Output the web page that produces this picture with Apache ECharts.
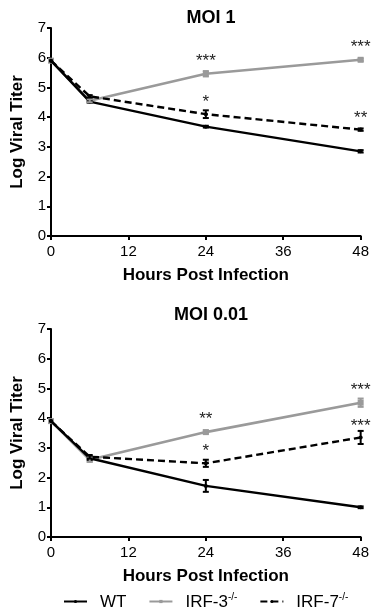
<!DOCTYPE html>
<html lang="en">
<head>
    <meta charset="UTF-8">
    <title>MOI viral titer</title>
    <script src="https://cdn.jsdelivr.net/npm/echarts@6.0.0/dist/echarts.min.js"></script>
    <style>
        body { margin: 0; background: #fff; }
        #main { width: 372px; height: 612px; }
    </style>
</head>
<body>
    <div id="main"></div>
    <script type="text/javascript">
        // time points (hours)
        const hours = [0, 6, 24, 48];
        const xTicks = [0, 12, 24, 36, 48];

        // MOI 1
        const wt1 = [5.9, 4.52, 3.68, 2.85];
        const irf3_1 = [5.9, 4.55, 5.46, 5.93];
        const irf7_1 = [5.9, 4.7, 4.1, 3.58];
        const wt1Err = [0, 0.03, 0.03, 0.04];
        const irf3_1Err = [0, 0.05, 0.09, 0.04];
        const irf7_1Err = [0, 0.04, 0.13, 0.04];
        const irf3_1Sig = ['', '', '***', '***'];
        const irf7_1Sig = ['', '', '*', '**'];

        // MOI 0.01
        const wt2 = [3.9, 2.65, 1.72, 1.0];
        const irf3_2 = [3.9, 2.6, 3.53, 4.52];
        const irf7_2 = [3.9, 2.7, 2.48, 3.35];
        const wt2Err = [0, 0.06, 0.2, 0.03];
        const irf3_2Err = [0, 0.07, 0.05, 0.14];
        const irf7_2Err = [0, 0.06, 0.12, 0.22];
        const irf3_2Sig = ['', '', '**', '***'];
        const irf7_2Sig = ['', '', '*', '***'];

        const names = ['WT', 'IRF-3-/-', 'IRF-7-/-'];
        const gray = '#9a9a9a';
        const font = 'Liberation Sans, Arial, sans-serif';

        function pts(vals, sig) {
            return hours.map(function (h, i) {
                const item = { value: [h, vals[i]] };
                if (sig && sig[i]) {
                    item.label = { show: true, formatter: sig[i] };
                }
                return item;
            });
        }

        function errData(vals, errs) {
            return hours.map(function (h, i) { return [h, vals[i], errs[i]]; });
        }

        function renderErr(params, api) {
            const x = api.value(0), y = api.value(1), e = api.value(2);
            if (!e) return;
            const hi = api.coord([x, y + e]);
            const lo = api.coord([x, y - e]);
            const color = api.visual('color');
            const st = { stroke: color, lineWidth: 2 };
            return {
                type: 'group',
                children: [
                    { type: 'line', shape: { x1: hi[0], y1: hi[1], x2: lo[0], y2: lo[1] }, style: st },
                    { type: 'line', shape: { x1: hi[0] - 3, y1: hi[1], x2: hi[0] + 3, y2: hi[1] }, style: st },
                    { type: 'line', shape: { x1: lo[0] - 3, y1: lo[1], x2: lo[0] + 3, y2: lo[1] }, style: st }
                ]
            };
        }

        const starLabel = {
            position: 'top',
            distance: 1,
            color: '#222',
            fontSize: 17,
            fontFamily: font
        };

        function lineSeries(name, idx, vals, sig, kind) {
            const s = {
                name: name,
                type: 'line',
                xAxisIndex: idx,
                yAxisIndex: idx,
                data: pts(vals, sig),
                label: starLabel,
                z: kind === 'irf3' ? 2 : 3
            };
            if (kind === 'wt') {
                s.color = '#000';
                s.symbol = 'circle';
                s.symbolSize = 4;
                s.lineStyle = { width: 2.4, color: '#000' };
            } else if (kind === 'irf3') {
                s.color = gray;
                s.symbol = 'rect';
                s.symbolSize = 6;
                s.lineStyle = { width: 2.6, color: gray };
            } else {
                s.color = '#000';
                s.symbol = 'circle';
                s.symbolSize = 4;
                s.lineStyle = { width: 2.4, color: '#000', type: [7, 4] };
            }
            return s;
        }

        function errSeries(idx, vals, errs, color) {
            return {
                type: 'custom',
                xAxisIndex: idx,
                yAxisIndex: idx,
                itemStyle: { color: color },
                renderItem: renderErr,
                data: errData(vals, errs),
                z: 4
            };
        }

        function xAxis(idx) {
            return {
                type: 'value',
                gridIndex: idx,
                min: 0,
                max: 48,
                interval: 12,
                name: 'Hours Post Infection',
                nameLocation: 'middle',
                nameGap: 31,
                nameTextStyle: { fontSize: 17, fontWeight: 'bold', color: '#000', fontFamily: font },
                axisLine: { lineStyle: { color: '#000', width: 2 } },
                axisTick: { length: 4, lineStyle: { color: '#000', width: 2 } },
                axisLabel: { fontSize: 15, color: '#000', margin: 8, fontFamily: font },
                splitLine: { show: false }
            };
        }

        function yAxis(idx) {
            return {
                type: 'value',
                gridIndex: idx,
                min: 0,
                max: 7,
                interval: 1,
                name: 'Log Viral Titer',
                nameLocation: 'middle',
                nameGap: 25,
                nameTextStyle: { fontSize: 17, fontWeight: 'bold', color: '#000', fontFamily: font },
                axisLine: { show: true, lineStyle: { color: '#000', width: 2 } },
                axisTick: { show: true, length: 4, lineStyle: { color: '#000', width: 2 } },
                axisLabel: { fontSize: 15, color: '#000', margin: 5, fontFamily: font },
                splitLine: { show: false }
            };
        }

        const chart = echarts.init(document.getElementById('main'));
        chart.setOption({
            backgroundColor: '#fff',
            animation: false,
            title: [
                { text: 'MOI 1', left: 206, textAlign: 'center', top: 4,
                  textStyle: { fontSize: 18, fontWeight: 'bold', color: '#000', fontFamily: font } },
                { text: 'MOI 0.01', left: 206, textAlign: 'center', top: 301,
                  textStyle: { fontSize: 18, fontWeight: 'bold', color: '#000', fontFamily: font } }
            ],
            grid: [
                { left: 51, right: 11, top: 28, height: 208 },
                { left: 51, right: 11, top: 329, height: 208 }
            ],
            xAxis: [xAxis(0), xAxis(1)],
            yAxis: [yAxis(0), yAxis(1)],
            legend: {
                data: names,
                left: 58,
                top: 587,
                itemWidth: 23,
                itemHeight: 4,
                itemGap: 22,
                textStyle: {
                    fontSize: 17,
                    color: '#000',
                    fontFamily: font,
                    rich: {
                        t: { fontSize: 17, color: '#000', fontFamily: font, padding: [2, 0, 0, 8] },
                        s: { fontSize: 10, verticalAlign: 'top', color: '#000', fontFamily: font, padding: [0, 0, 8, 0] }
                    }
                },
                formatter: function (n) {
                    if (n === 'WT') return '{t|WT}';
                    return '{t|' + n.replace('-/-', '') + '}{s|-/-}';
                }
            },
            series: [
                lineSeries(names[0], 0, wt1, null, 'wt'),
                lineSeries(names[1], 0, irf3_1, irf3_1Sig, 'irf3'),
                lineSeries(names[2], 0, irf7_1, irf7_1Sig, 'irf7'),
                errSeries(0, wt1, wt1Err, '#000'),
                errSeries(0, irf3_1, irf3_1Err, gray),
                errSeries(0, irf7_1, irf7_1Err, '#000'),
                lineSeries(names[0], 1, wt2, null, 'wt'),
                lineSeries(names[1], 1, irf3_2, irf3_2Sig, 'irf3'),
                lineSeries(names[2], 1, irf7_2, irf7_2Sig, 'irf7'),
                errSeries(1, wt2, wt2Err, '#000'),
                errSeries(1, irf3_2, irf3_2Err, gray),
                errSeries(1, irf7_2, irf7_2Err, '#000')
            ]
        });
    </script>
</body>
</html>
